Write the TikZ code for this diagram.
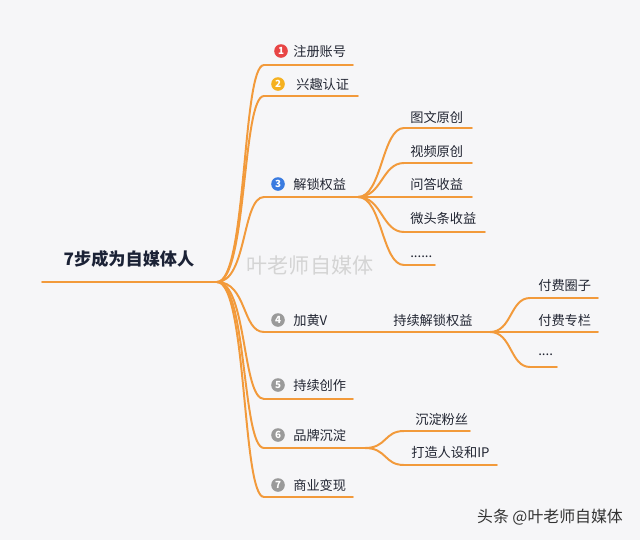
\documentclass[tikz,border=0pt]{standalone}
\usepackage{fontspec}
\setmainfont{Noto Sans CJK SC}
\usetikzlibrary{positioning}
\usepackage{xcolor}
\definecolor{linecol}{HTML}{F29A3B}
\definecolor{bgcol}{HTML}{F6F6F8}
\definecolor{txtcol}{HTML}{222633}
\definecolor{titlecol}{HTML}{1B2236}
\definecolor{ired}{HTML}{E84545}
\definecolor{iyellow}{HTML}{F5B120}
\definecolor{iblue}{HTML}{3A7BE0}
\definecolor{igray}{HTML}{9A9A9A}
\tikzstyle{branch} = [
draw=linecol,
line width=1.4pt,
line cap=round
]
\tikzstyle{topic} = [
text=txtcol,
font=\fontsize{9.4}{11}\selectfont,
inner sep=0pt,
anchor=west
]
\tikzstyle{numdot} = [
circle,
inner sep=0pt,
minimum size=0.34cm,
text=white,
font=\fontsize{7}{8}\selectfont\bfseries
]
\tikzstyle{titletext} = [
text=titlecol,
font=\fontsize{12.2}{14}\selectfont\bfseries
]

\begin{document}
\begin{tikzpicture}[x=0.025cm, y=-0.025cm]
        \fill[bgcol] (0,0) rectangle (640,540);
        \useasboundingbox (0,0) rectangle (640,540);

        % root
        \coordinate (rootL) at (42,282);
        \coordinate (root) at (217,282);
        \node (title)[titletext] at (129,259) {7步成为自媒体人};
        \node (mark)[text=black!17, font=\fontsize{15}{16}\selectfont] at (310,265) {叶老师自媒体};

        % level 1 lines
        \coordinate (s1) at (264,65);  \coordinate (e1) at (353,65);
        \coordinate (s2) at (264,96);  \coordinate (e2) at (358,96);
        \coordinate (s3) at (264,197); \coordinate (j3) at (358,197);
        \coordinate (s4) at (264,332); \coordinate (j4) at (490,332);
        \coordinate (s5) at (264,399); \coordinate (e5) at (353,399);
        \coordinate (s6) at (264,448); \coordinate (j6) at (365,448);
        \coordinate (s7) at (264,497); \coordinate (e7) at (353,497);

        % level 2 lines
        \coordinate (c31) at (404,128); \coordinate (d31) at (472,128);
        \coordinate (c32) at (404,163); \coordinate (d32) at (472,163);
        \coordinate (d33) at (472,197);
        \coordinate (c34) at (404,232); \coordinate (d34) at (485,232);
        \coordinate (c35) at (404,265); \coordinate (d35) at (435,265);
        \coordinate (c41) at (530,298); \coordinate (d41) at (598,298);
        \coordinate (d42) at (598,332);
        \coordinate (c43) at (530,367); \coordinate (d43) at (557,367);
        \coordinate (c61) at (404,431); \coordinate (d61) at (470,431);
        \coordinate (c62) at (404,465); \coordinate (d62) at (497,465);

        \draw[branch] (rootL) -- (root);
        \foreach \s in {s1,s2,s3,s4,s5,s6,s7}
            \draw[branch] (root) .. controls +(30,0) and +(-22,0) .. (\s);
        \draw[branch] (s1) -- (e1);
        \draw[branch] (s2) -- (e2);
        \draw[branch] (s3) -- (j3);
        \draw[branch] (s4) -- (j4);
        \draw[branch] (s5) -- (e5);
        \draw[branch] (s6) -- (j6);
        \draw[branch] (s7) -- (e7);

        \foreach \c/\d in {c31/d31,c32/d32,c34/d34,c35/d35}
            \draw[branch] (j3) .. controls +(24,0) and +(-22,0) .. (\c) -- (\d);
        \draw[branch] (j3) -- (d33);
        \foreach \c/\d in {c41/d41,c43/d43}
            \draw[branch] (j4) .. controls +(22,0) and +(-20,0) .. (\c) -- (\d);
        \draw[branch] (j4) -- (d42);
        \foreach \c/\d in {c61/d61,c62/d62}
            \draw[branch] (j6) .. controls +(22,0) and +(-20,0) .. (\c) -- (\d);

        % level 1 texts
        \node (n1)[numdot, fill=ired] at (281,51) {1};
        \node (t1)[topic] at (293,51) {注册账号};
        \node (n2)[numdot, fill=iyellow] at (278,84) {2};
        \node (t2)[topic] at (296,84) {兴趣认证};
        \node (n3)[numdot, fill=iblue] at (278,184) {3};
        \node (t3)[topic] at (293,184) {解锁权益};
        \node (n4)[numdot, fill=igray] at (278,320) {4};
        \node (t4)[topic] at (293,320) {加黄V};
        \node (n5)[numdot, fill=igray] at (278,385) {5};
        \node (t5)[topic] at (293,385) {持续创作};
        \node (n6)[numdot, fill=igray] at (278,435) {6};
        \node (t6)[topic] at (293,435) {品牌沉淀};
        \node (n7)[numdot, fill=igray] at (278,485) {7};
        \node (t7)[topic] at (293,485) {商业变现};
        \node (t41)[topic] at (393,320) {持续解锁权益};

        % level 2 texts
        \node (u31)[topic] at (410,117) {图文原创};
        \node (u32)[topic] at (410,151) {视频原创};
        \node (u33)[topic] at (410,184) {问答收益};
        \node (u34)[topic] at (410,218) {微头条收益};
        \node (u35)[topic] at (410,257) {......};
        \node (u41)[topic] at (538,285) {付费圈子};
        \node (u42)[topic] at (538,320) {付费专栏};
        \node (u43)[topic] at (538,355) {....};
        \node (u61)[topic] at (415,419) {沉淀粉丝};
        \node (u62)[topic] at (411,452) {打造人设和IP};

        \node (credit)[text=black!80, font=\fontsize{11.3}{12}\selectfont] at (550,517) {头条 @叶老师自媒体};

\end{tikzpicture}
\end{document}
